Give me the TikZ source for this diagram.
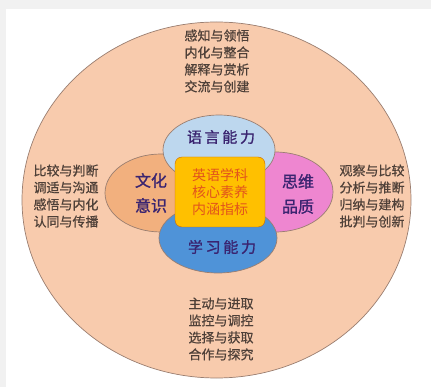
\documentclass[tikz,border=0pt]{standalone}
\usepackage{fontspec}
\newfontfamily\cjk[FakeBold=0.6]{Noto Sans CJK SC}
\newfontfamily\cjkcore{Noto Sans CJK SC}
\newfontfamily\cjkpetal[LetterSpace=18,FakeBold=1.2]{Noto Sans CJK SC}
\newfontfamily\cjkpetaltwo[FakeBold=1.2]{Noto Sans CJK SC}
\definecolor{bggray}{HTML}{F1F1F1}
\definecolor{peach}{HTML}{F8CBAD}
\definecolor{outl}{HTML}{9A7E70}
\definecolor{ltblue}{HTML}{BDD7EE}
\definecolor{dkblue}{HTML}{4F93D8}
\definecolor{salmon}{HTML}{F2B07E}
\definecolor{pinkp}{HTML}{EE86D0}
\definecolor{gold}{HTML}{FFC000}
\definecolor{ctext}{HTML}{E2541C}
\definecolor{otext}{HTML}{4E4038}
\definecolor{ptext}{HTML}{3A2470}
\begin{document}
\begin{tikzpicture}[x=1pt,y=-1pt,
  outer/.style={align=center,font=\cjk\fontsize{13}{17}\selectfont,text=otext,inner sep=0pt},
  petal/.style={draw=outl,line width=0.7pt},
  ptxt/.style={align=center,font=\cjkpetal\fontsize{15}{25}\selectfont,text=ptext,inner sep=0pt},
  ptxttwo/.style={align=center,font=\cjkpetaltwo\fontsize{16}{25}\selectfont,text=ptext,inner sep=0pt},
]
\useasboundingbox (0,0) rectangle (431,387);
\fill[bggray] (0,0) rectangle (431,387);
\fill[white] (6,9) rectangle (431,387);
% big circle
\draw[fill=peach,draw=outl,line width=0.7pt] (216.5,200) ellipse [x radius=194.5,y radius=178];
% petals
\draw[petal,fill=salmon] (161,193) ellipse [x radius=56,y radius=39];
\draw[petal,fill=pinkp] (275,192) ellipse [x radius=58,y radius=40];
\draw[petal,fill=ltblue] (219,150) ellipse [x radius=56,y radius=35];
\draw[petal,fill=dkblue] (218,238) ellipse [x radius=59,y radius=35];
% center
\node[draw=orange!80!black,line width=0.4pt,fill=gold,rounded corners=7pt,minimum width=90pt,minimum height=70pt,
  align=center,font=\cjkcore\fontsize{14}{17}\selectfont,text=ctext,inner sep=0pt] (core) at (220,192) {英语学科\\核心素养\\内涵指标};
% petal labels
\node[ptxt] (lang) at (221,137) {语言能力};
\node[ptxt] (learn) at (222,247) {学习能力};
\node[ptxttwo] (cult) at (151,193) {文化\\意识};
\node[ptxttwo] (think) at (298,194) {思维\\品质};
% outer labels
\node[outer] (top) at (217,61) {感知与领悟\\内化与整合\\解释与赏析\\交流与创建};
\node[outer] (bot) at (221,329) {主动与进取\\监控与调控\\选择与获取\\合作与探究};
\node[outer] (left) at (66,196) {比较与判断\\调适与沟通\\感悟与内化\\认同与传播};
\node[outer] (right) at (372,196) {观察与比较\\分析与推断\\归纳与建构\\批判与创新};
\end{tikzpicture}
\end{document}
